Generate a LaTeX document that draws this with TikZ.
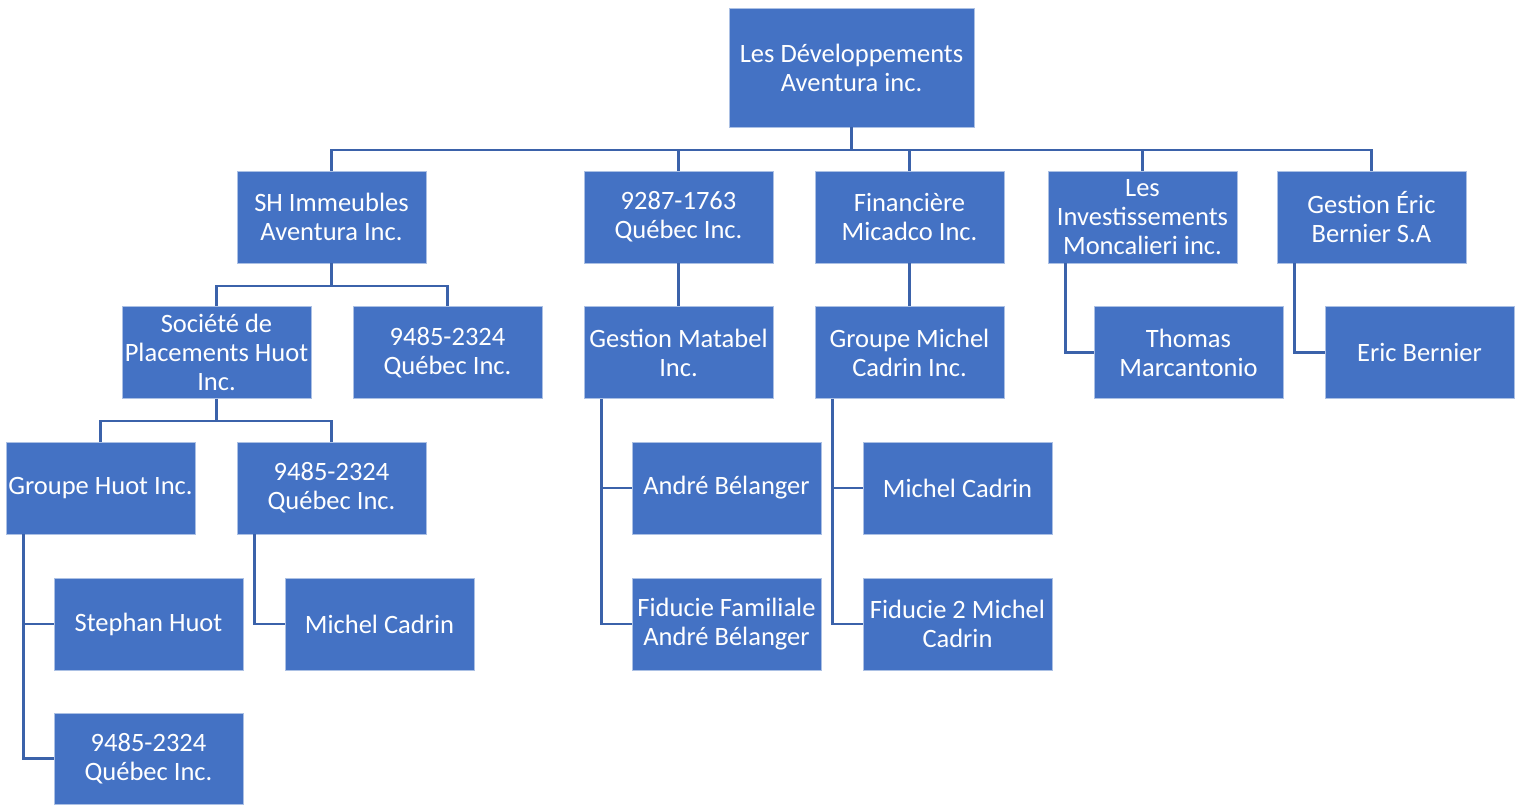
\documentclass[tikz,border=0pt]{standalone}
\usepackage{fontspec}
\setmainfont{Carlito}
\definecolor{boxblue}{HTML}{4472C4}
\definecolor{lineblue}{HTML}{3B62AA}
\tikzset{
  orgbox/.style={rectangle, fill=boxblue, draw=boxblue!45!white, line width=0.8pt,
    minimum width=189pt, minimum height=92pt, inner sep=0pt, align=center,
    text=white, font=\fontsize{26.5}{29}\selectfont},
  link/.style={draw=lineblue, line width=2.4pt},
}
\begin{document}
\begin{tikzpicture}[x=1pt,y=-1pt]
\useasboundingbox (0,0) rectangle (1524,804);
% level 0
\node[orgbox, minimum width=245pt, minimum height=119pt] (root) at (851.5,67.5) {Les Développements\\Aventura inc.};
% level 1
\node[orgbox] (sh)   at (331.5,217) {SH Immeubles\\Aventura Inc.};
\node[orgbox] (q9287) at (678.5,217) {9287-1763\\Québec Inc.};
\node[orgbox] (fin)  at (909.5,217) {Financière\\Micadco Inc.};
\node[orgbox] (inv)  at (1142.5,217) {Les\\Investissements\\Moncalieri inc.};
\node[orgbox] (ges)  at (1371.5,217) {Gestion Éric\\Bernier S.A};
% level 2
\node[orgbox] (soc)  at (216.5,352.5) {Société de\\Placements Huot\\Inc.};
\node[orgbox] (qa)   at (447.5,352.5) {9485-2324\\Québec Inc.};
\node[orgbox] (mat)  at (678.5,352.5) {Gestion Matabel\\Inc.};
\node[orgbox] (gmc)  at (909.5,352.5) {Groupe Michel\\Cadrin Inc.};
\node[orgbox] (tho)  at (1188.5,352.5) {Thomas\\Marcantonio};
\node[orgbox] (eri)  at (1419.5,352.5) {Eric Bernier};
% level 3
\node[orgbox] (ghu)  at (100.5,488) {Groupe Huot Inc.};
\node[orgbox] (qb)   at (331.5,488) {9485-2324\\Québec Inc.};
\node[orgbox] (andr) at (726.5,488) {André Bélanger};
\node[orgbox] (mca)  at (957.5,488) {Michel Cadrin};
% level 4
\node[orgbox] (ste)  at (148.5,624) {Stephan Huot};
\node[orgbox] (mcb)  at (379.5,624) {Michel Cadrin};
\node[orgbox] (fid)  at (726.5,624) {Fiducie Familiale\\André Bélanger};
\node[orgbox] (fidd) at (957.5,624) {Fiducie 2 Michel\\Cadrin};
% level 5
\node[orgbox, minimum height=91pt] (qc) at (148.5,758.5) {9485-2324\\Québec Inc.};
% connectors
\coordinate (bus) at (851.5,150);
\draw[link, line width=3.2pt] (root.south) -- (bus);
\draw[link] (sh.north) -- (sh.north |- bus) -- (ges.north |- bus) -- (ges.north);
\draw[link] (q9287.north) -- (q9287.north |- bus);
\draw[link] (fin.north) -- (fin.north |- bus);
\draw[link] (inv.north) -- (inv.north |- bus);
\coordinate (bsh) at (331.5,286);
\draw[link] (sh.south) -- (bsh);
\draw[link] (soc.north) -- (soc.north |- bsh) -- (qa.north |- bsh) -- (qa.north);
\coordinate (bsoc) at (216.5,421);
\draw[link] (soc.south) -- (bsoc);
\draw[link] (ghu.north) -- (ghu.north |- bsoc) -- (qb.north |- bsoc) -- (qb.north);
\draw[link] (q9287.south) -- (mat.north);
\draw[link] (fin.south) -- (gmc.north);
\draw[link] ([xshift=18pt]ghu.south west) |- (ste.west);
\draw[link] ([xshift=18pt]ghu.south west) |- (qc.west);
\draw[link] ([xshift=18pt]qb.south west) |- (mcb.west);
\draw[link] ([xshift=18pt]mat.south west) |- (andr.west);
\draw[link] ([xshift=18pt]mat.south west) |- (fid.west);
\draw[link] ([xshift=18pt]gmc.south west) |- (mca.west);
\draw[link] ([xshift=18pt]gmc.south west) |- (fidd.west);
\draw[link] ([xshift=18pt]inv.south west) |- (tho.west);
\draw[link] ([xshift=18pt]ges.south west) |- (eri.west);
\end{tikzpicture}
\end{document}
